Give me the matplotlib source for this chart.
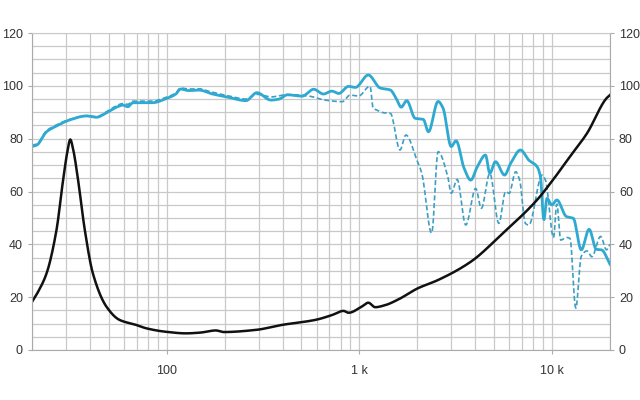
import matplotlib
matplotlib.use("Agg")
import matplotlib.pyplot as plt
import numpy as np
from matplotlib.ticker import FixedLocator, NullFormatter

plt.rcParams['font.family'] = ['Liberation Sans', 'DejaVu Sans']

# Impedance curve (black)
imp_f = [20, 21.5, 23.8, 26.8, 29.0, 30.6, 31.6, 32.7, 34.7, 37.6, 41.4, 48.7, 56.9, 69.4,
         78.5, 99, 126, 150, 180, 198, 290, 397, 592, 720, 828, 880, 1028, 1114, 1210, 1365,
         1600, 2005, 2565, 3790, 5560, 8370, 10100, 12400, 15200, 19200, 20000]
imp_v = [18.2, 22, 29, 45.4, 64.3, 75.5, 79.7, 76, 64.3, 45.4, 29, 16.4, 11.4, 9.5,
         8.2, 6.9, 6.3, 6.6, 7.4, 6.8, 7.6, 9.5, 11.4, 13.2, 14.8, 14.1, 16.4, 17.9, 16.2, 17,
         19.2, 23.3, 26.5, 33.4, 44.2, 56.8, 64.3, 73.2, 82, 95.3, 96.5]

# On-axis SPL (solid blue)
spl_f = [20, 21.2, 23.8, 26.8, 31.4, 38.4, 43.2, 48.7, 54.8, 59.3, 62.9, 66.8, 84.2, 99,
         111.6, 118, 130, 147, 173, 203, 258, 294, 348, 384, 423, 505, 580, 651, 720, 782,
         880, 954, 1114, 1282, 1450, 1560, 1650, 1763, 1950, 2150, 2285, 2565, 2720, 3000,
         3180, 3500, 3790, 4100, 4520, 4760, 5090, 5680, 6100, 6870, 7580, 8370, 8720,
         9080, 9420, 10000, 10600, 11900, 12900, 14200, 15600, 17000, 18100, 20000]
spl_v = [77, 77.6, 82.6, 84.8, 87.1, 88.6, 88.1, 89.8, 91.9, 92.7, 92.1, 93.6, 93.6, 95.1,
         96.9, 98.8, 98.2, 98.4, 96.9, 95.9, 94.4, 97.4, 94.6, 95, 96.6, 96.1, 98.7, 96.9,
         98, 97.1, 99.8, 99.4, 104.1, 99.2, 98.4, 95, 91.9, 94.4, 87.7, 87.3, 82.6, 94.1,
         91.6, 77, 79.2, 68.8, 64.3, 69.4, 73.8, 66.9, 71.3, 66.2, 70.6, 75.7, 71.9, 69.4,
         65.6, 49.2, 57.4, 54.9, 56.8, 50.5, 49.9, 37.9, 45.7, 38.1, 37.9, 32.5]

# Off-axis SPL (dashed blue)
off_f = [20, 21.2, 23.8, 26.8, 31.4, 38.4, 43.2, 48.7, 54.8, 59.3, 62.9, 66.8, 84.2, 99,
         111.6, 118, 130, 147, 166, 203, 258, 294, 348, 423, 505, 550, 665, 815, 897, 990,
         1137, 1180, 1235, 1340, 1450, 1627, 1745, 1990, 2110, 2375, 2565, 2880, 3000, 3220,
         3570, 4020, 4300, 4760, 5300, 5750, 6000, 6480, 6800, 7280, 7580, 8900, 9260,
         10200, 10600, 11100, 11900, 12400, 13300, 14200, 15200, 16100, 17900, 19200, 20000]
off_v = [77.5, 78, 83, 85.2, 87.3, 88.7, 88.3, 90.2, 92.4, 93.3, 93, 94.2, 94.2, 95.6,
         97.3, 99.2, 98.8, 98.9, 97.9, 96.4, 95, 96.8, 95.8, 96.7, 96.4, 96.1, 94.6, 94,
         96.5, 96.1, 99.9, 91.6, 90.8, 89.8, 89.6, 75.7, 81.4, 71.9, 66.9, 44.2, 75.1,
         65.6, 59.3, 64.6, 47.3, 61.2, 53.6, 66.9, 47.9, 60, 59.3, 67.5, 64.3, 47.9, 47.3,
         66.2, 64.3, 42.5, 55.5, 41.6, 42.6, 42.3, 15.8, 35.5, 37.5, 35.3, 43, 37.9, 40]

x_labels = {100: "100", 1000: "1 k", 10000: "10 k"}
y_ticks = [0, 20, 40, 60, 80, 100, 120]


def smooth(fs, vs, n=800):
    lf = np.log10(fs)
    xs = np.linspace(lf[0], lf[-1], n)
    # monotone cubic (PCHIP-like) interpolation on log frequency
    x = np.asarray(lf); y = np.asarray(vs, float)
    h = np.diff(x); d = np.diff(y) / h
    m = np.zeros_like(y)
    for i in range(1, len(y) - 1):
        if d[i - 1] * d[i] > 0:
            w1 = 2 * h[i] + h[i - 1]; w2 = h[i] + 2 * h[i - 1]
            m[i] = (w1 + w2) / (w1 / d[i - 1] + w2 / d[i])
    m[0] = d[0]; m[-1] = d[-1]
    idx = np.clip(np.searchsorted(x, xs) - 1, 0, len(h) - 1)
    t = (xs - x[idx]) / h[idx]
    h00 = 2 * t**3 - 3 * t**2 + 1; h10 = t**3 - 2 * t**2 + t
    h01 = -2 * t**3 + 3 * t**2; h11 = t**3 - t**2
    ys = h00 * y[idx] + h10 * h[idx] * m[idx] + h01 * y[idx + 1] + h11 * h[idx] * m[idx + 1]
    return 10**xs, ys


fig = plt.figure(figsize=(6.4, 4.0), dpi=100)
ax = fig.add_axes([0.05, 0.125, 0.903, 0.7925])

gc = '#c9c9c9'
ax.set_xscale('log')
ax.set_xlim(20, 20000)
ax.set_ylim(0, 120)

minor_x = [f for dec in (10, 100, 1000, 10000) for f in [dec * k for k in range(1, 10)]
           if 20 <= f <= 20000]
ax.xaxis.set_major_locator(FixedLocator(list(x_labels.keys())))
ax.xaxis.set_minor_locator(FixedLocator(minor_x))
ax.xaxis.set_minor_formatter(NullFormatter())
ax.set_xticklabels(list(x_labels.values()))
ax.set_yticks(y_ticks)
ax.yaxis.set_minor_locator(FixedLocator(list(range(0, 121, 5))))

ax.grid(True, which='both', color=gc, linewidth=0.9)
ax.set_axisbelow(True)

ax.spines['top'].set_color(gc)
for s in ('left', 'right', 'bottom'):
    ax.spines[s].set_color('#aaaaaa')

ax.tick_params(axis='both', which='both', colors='#aaaaaa', labelcolor='#333333',
               labelsize=9, length=3, width=0.8)
ax.tick_params(axis='x', which='minor', length=0)
ax.tick_params(axis='y', which='minor', length=0)
ax.tick_params(axis='y', which='major', right=True, labelright=True)
ax.tick_params(axis='x', which='major', pad=8)

fx, fy = smooth(off_f, off_v)
ax.plot(fx, fy, color='#3a9fc4', linewidth=1.2, linestyle=(0, (3, 1.6)))
sx, sy = smooth(spl_f, spl_v)
ax.plot(sx, sy, color='#2ea9d2', linewidth=2.0)
ix, iy = smooth(imp_f, imp_v)
ax.plot(ix, iy, color='#111111', linewidth=1.8)

fig.savefig('out.png', dpi=100)
